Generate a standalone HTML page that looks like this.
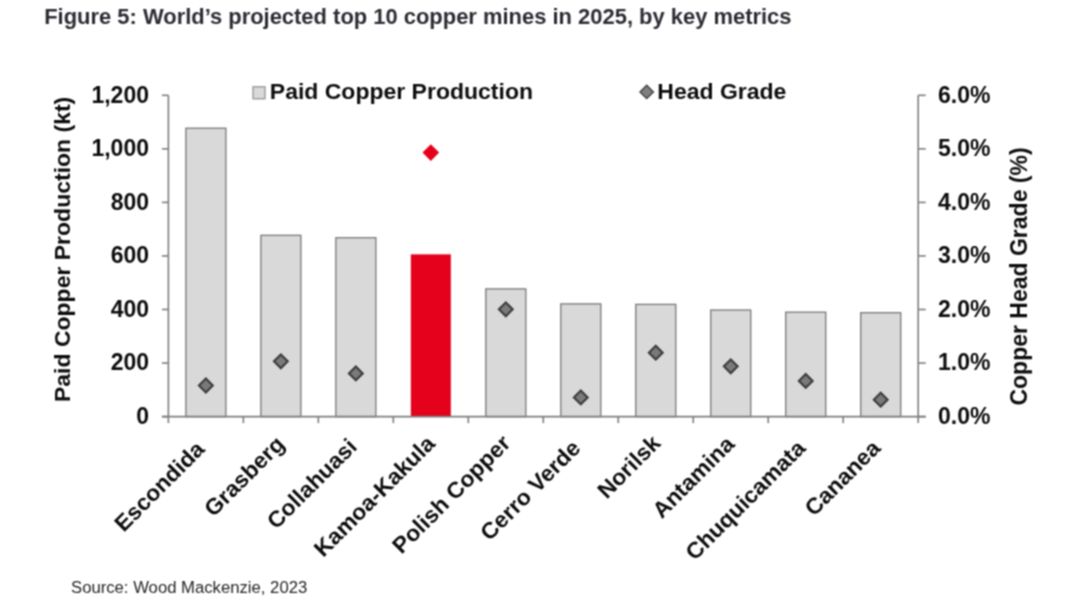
<!DOCTYPE html>
<html><head><meta charset="utf-8"><style>
html,body{margin:0;padding:0;background:#fff;}
body{width:1080px;height:607px;overflow:hidden;position:relative;font-family:"Liberation Sans", sans-serif;}
svg{position:absolute;left:0;top:0;}
</style></head><body>
<svg width="1080" height="607" viewBox="0 0 1080 607" font-family='"Liberation Sans", sans-serif'>
<defs><filter id="bl" x="0" y="0" width="1080" height="607" filterUnits="userSpaceOnUse" color-interpolation-filters="sRGB"><feConvolveMatrix order="3" kernelMatrix="1 2 1 2 4 2 1 2 1" preserveAlpha="false" edgeMode="duplicate"/></filter></defs>
<g filter="url(#bl)">
<rect x="0" y="0" width="1080" height="607" fill="#fff"/>
<text x="44.2" y="24" font-size="21.95" font-weight="bold" fill="#2c2c34">Figure 5: World’s projected top 10 copper mines in 2025, by key metrics</text>
<rect x="185.89" y="128.23" width="40.00" height="288.37" fill="#d9d9d9" stroke="#787878" stroke-width="1.3"/>
<rect x="260.87" y="235.33" width="40.00" height="181.27" fill="#d9d9d9" stroke="#787878" stroke-width="1.3"/>
<rect x="335.85" y="237.74" width="40.00" height="178.86" fill="#d9d9d9" stroke="#787878" stroke-width="1.3"/>
<rect x="410.83" y="254.34" width="40.00" height="162.26" fill="#e5001c" stroke="none" stroke-width="1.3"/>
<rect x="485.81" y="288.88" width="40.00" height="127.72" fill="#d9d9d9" stroke="#787878" stroke-width="1.3"/>
<rect x="560.79" y="303.88" width="40.00" height="112.72" fill="#d9d9d9" stroke="#787878" stroke-width="1.3"/>
<rect x="635.77" y="304.41" width="40.00" height="112.19" fill="#d9d9d9" stroke="#787878" stroke-width="1.3"/>
<rect x="710.75" y="310.04" width="40.00" height="106.56" fill="#d9d9d9" stroke="#787878" stroke-width="1.3"/>
<rect x="785.73" y="312.18" width="40.00" height="104.42" fill="#d9d9d9" stroke="#787878" stroke-width="1.3"/>
<rect x="860.71" y="312.71" width="40.00" height="103.89" fill="#d9d9d9" stroke="#787878" stroke-width="1.3"/>
<g stroke="#7e7e7e" stroke-width="1.6" fill="none">
<line x1="168.40" y1="95.30" x2="168.40" y2="416.60"/>
<line x1="918.20" y1="95.30" x2="918.20" y2="416.60"/>
<line x1="161.90" y1="416.60" x2="925.70" y2="416.60"/>
<line x1="161.90" y1="416.60" x2="168.40" y2="416.60"/>
<line x1="918.20" y1="416.60" x2="925.70" y2="416.60"/>
<line x1="161.90" y1="363.05" x2="168.40" y2="363.05"/>
<line x1="918.20" y1="363.05" x2="925.70" y2="363.05"/>
<line x1="161.90" y1="309.50" x2="168.40" y2="309.50"/>
<line x1="918.20" y1="309.50" x2="925.70" y2="309.50"/>
<line x1="161.90" y1="255.95" x2="168.40" y2="255.95"/>
<line x1="918.20" y1="255.95" x2="925.70" y2="255.95"/>
<line x1="161.90" y1="202.40" x2="168.40" y2="202.40"/>
<line x1="918.20" y1="202.40" x2="925.70" y2="202.40"/>
<line x1="161.90" y1="148.85" x2="168.40" y2="148.85"/>
<line x1="918.20" y1="148.85" x2="925.70" y2="148.85"/>
<line x1="161.90" y1="95.30" x2="168.40" y2="95.30"/>
<line x1="918.20" y1="95.30" x2="925.70" y2="95.30"/>
<line x1="168.40" y1="416.60" x2="168.40" y2="423.10"/>
<line x1="243.38" y1="416.60" x2="243.38" y2="423.10"/>
<line x1="318.36" y1="416.60" x2="318.36" y2="423.10"/>
<line x1="393.34" y1="416.60" x2="393.34" y2="423.10"/>
<line x1="468.32" y1="416.60" x2="468.32" y2="423.10"/>
<line x1="543.30" y1="416.60" x2="543.30" y2="423.10"/>
<line x1="618.28" y1="416.60" x2="618.28" y2="423.10"/>
<line x1="693.26" y1="416.60" x2="693.26" y2="423.10"/>
<line x1="768.24" y1="416.60" x2="768.24" y2="423.10"/>
<line x1="843.22" y1="416.60" x2="843.22" y2="423.10"/>
<line x1="918.20" y1="416.60" x2="918.20" y2="423.10"/>
</g>
<path d="M205.89 378.60L212.79 385.50L205.89 392.40L198.99 385.50Z" fill="#7a7a7a" stroke="#3c3c3c" stroke-width="2.1"/>
<path d="M280.87 354.40L287.77 361.30L280.87 368.20L273.97 361.30Z" fill="#7a7a7a" stroke="#3c3c3c" stroke-width="2.1"/>
<path d="M355.85 366.50L362.75 373.40L355.85 380.30L348.95 373.40Z" fill="#7a7a7a" stroke="#3c3c3c" stroke-width="2.1"/>
<path d="M430.83 144.30L439.13 152.60L430.83 160.90L422.53 152.60Z" fill="#e5001c"/>
<path d="M505.81 302.40L512.71 309.30L505.81 316.20L498.91 309.30Z" fill="#7a7a7a" stroke="#3c3c3c" stroke-width="2.1"/>
<path d="M580.79 390.50L587.69 397.40L580.79 404.30L573.89 397.40Z" fill="#7a7a7a" stroke="#3c3c3c" stroke-width="2.1"/>
<path d="M655.77 345.80L662.67 352.70L655.77 359.60L648.87 352.70Z" fill="#7a7a7a" stroke="#3c3c3c" stroke-width="2.1"/>
<path d="M730.75 359.40L737.65 366.30L730.75 373.20L723.85 366.30Z" fill="#7a7a7a" stroke="#3c3c3c" stroke-width="2.1"/>
<path d="M805.73 374.00L812.63 380.90L805.73 387.80L798.83 380.90Z" fill="#7a7a7a" stroke="#3c3c3c" stroke-width="2.1"/>
<path d="M880.71 392.80L887.61 399.70L880.71 406.60L873.81 399.70Z" fill="#7a7a7a" stroke="#3c3c3c" stroke-width="2.1"/>
<rect x="253" y="86.8" width="12" height="12" fill="#d9d9d9" stroke="#8c8c8c" stroke-width="1.2"/>
<path d="M646.7 85.2L653.4 91.9L646.7 98.6L640 91.9Z" fill="#7f7f7f" stroke="#404040" stroke-width="1.4"/>
<g font-size="23.0" font-weight="bold" fill="#0d0d0d">
<text transform="translate(149.00,423.90)" text-anchor="end">0</text>
<text transform="translate(149.00,370.35)" text-anchor="end">200</text>
<text transform="translate(149.00,316.80)" text-anchor="end">400</text>
<text transform="translate(149.00,263.25)" text-anchor="end">600</text>
<text transform="translate(149.00,209.70)" text-anchor="end">800</text>
<text transform="translate(149.00,156.15)" text-anchor="end">1,000</text>
<text transform="translate(149.00,102.60)" text-anchor="end">1,200</text>
<text transform="translate(938.00,423.90)">0.0%</text>
<text transform="translate(938.00,370.35)">1.0%</text>
<text transform="translate(938.00,316.80)">2.0%</text>
<text transform="translate(938.00,263.25)">3.0%</text>
<text transform="translate(938.00,209.70)">4.0%</text>
<text transform="translate(938.00,156.15)">5.0%</text>
<text transform="translate(938.00,102.60)">6.0%</text>
<text transform="translate(69.50,249.40) rotate(-90) scale(1,0.98)" text-anchor="middle">Paid Copper Production (kt)</text>
<text transform="translate(1026.50,276.50) rotate(-90)" text-anchor="middle">Copper Head Grade (%)</text>
<text transform="translate(269.80,98.80) scale(1,0.98)">Paid Copper Production</text>
<text transform="translate(657.30,98.80) scale(1,0.98)">Head Grade</text>
<text transform="translate(205.89,450.50) rotate(-45) scale(1,0.98)" text-anchor="end">Escondida</text>
<text transform="translate(285.87,445.50) rotate(-45) scale(1,0.98)" text-anchor="end">Grasberg</text>
<text transform="translate(358.35,448.00) rotate(-45) scale(1,0.98)" text-anchor="end">Collahuasi</text>
<text transform="translate(436.33,445.00) rotate(-45) scale(1,0.98)" text-anchor="end">Kamoa-Kakula</text>
<text transform="translate(511.81,444.50) rotate(-45) scale(1,0.98)" text-anchor="end">Polish Copper</text>
<text transform="translate(581.79,449.50) rotate(-45) scale(1,0.98)" text-anchor="end">Cerro Verde</text>
<text transform="translate(661.77,444.50) rotate(-45) scale(1,0.98)" text-anchor="end">Norilsk</text>
<text transform="translate(735.75,445.50) rotate(-45) scale(1,0.98)" text-anchor="end">Antamina</text>
<text transform="translate(806.73,449.50) rotate(-45) scale(1,0.98)" text-anchor="end">Chuquicamata</text>
<text transform="translate(881.71,449.50) rotate(-45) scale(1,0.98)" text-anchor="end">Cananea</text>
</g>
<text x="71" y="593" font-size="16.7" fill="#262626">Source: Wood Mackenzie, 2023</text>
</g>
</svg>
</body></html>
